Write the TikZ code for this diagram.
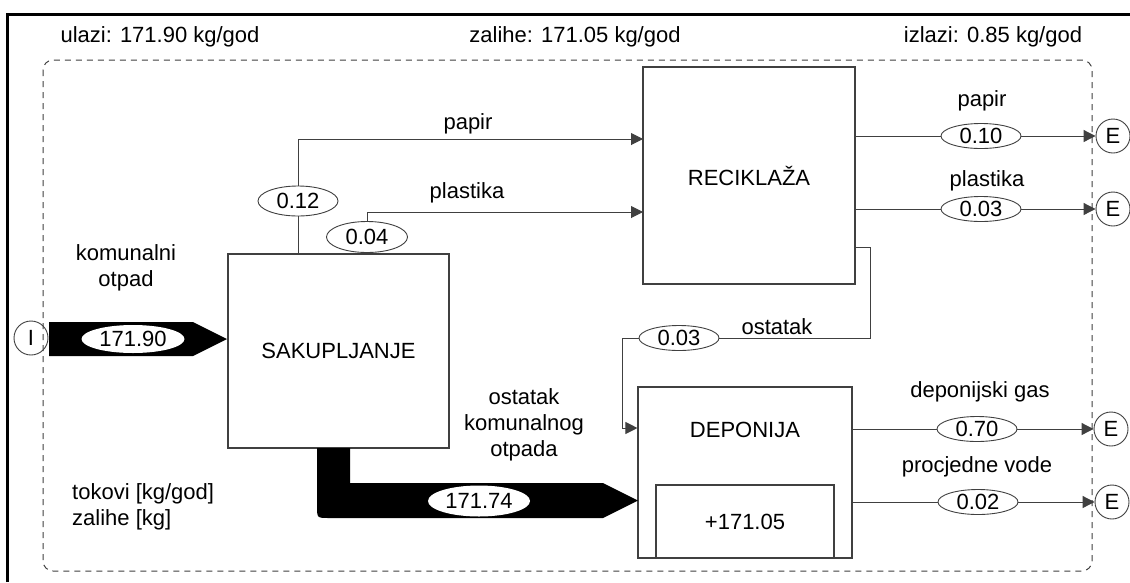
\documentclass[tikz,border=0pt]{standalone}
\usepackage{fontspec}
\setmainfont{Liberation Sans}
\usetikzlibrary{arrows.meta,shapes.geometric}
\definecolor{linec}{gray}{0.25}
\begin{document}
\begin{tikzpicture}[x=1pt,y=-1pt,
  every node/.style={font=\fontsize{22}{26}\selectfont, inner sep=0pt},
  box/.style={draw=linec, line width=1.1pt, rectangle},
  val/.style={draw=linec, line width=0.9pt, ellipse, fill=white, minimum width=80pt, minimum height=25pt},
  big/.style={ellipse, fill=white},
  term/.style={draw=linec, line width=0.9pt, circle, minimum size=34pt},
  conn/.style={draw=linec, line width=1pt},
  arr/.style={conn, -{Triangle[length=12pt,width=12pt]}},
  thick flow/.style={fill=black}
]
\fill[white] (0,0) rectangle (1130,582);
\useasboundingbox (0,0) rectangle (1130,582);
% outer frame
\draw[line width=3pt] (7.5,582) -- (7.5,14) -- (1130,14);
% system boundary
\draw[linec, line width=1pt, dash pattern=on 6pt off 5pt, rounded corners=10pt] (43,60) rectangle (1092,571);

% titles
\node (tin) at (160,37) {ulazi: 171.90 kg/god};
\node (tst) at (575,37) {zalihe: 171.05 kg/god};
\node (tout) at (993,37) {izlazi: 0.85 kg/god};

% processes
\node[box, minimum width=221pt, minimum height=194pt] (sak) at (338.5,351) {SAKUPLJANJE};
\node[box, minimum width=212pt, minimum height=217pt] (rec) at (749,175.5) {RECIKLAŽA};
\node[box, minimum width=214pt, minimum height=171pt] (dep) at (745,472.5) {};
\node (deptxt) at (745,430) {DEPONIJA};
\node[box, minimum width=178pt, minimum height=73pt] (stock) at (745,521.5) {+171.05};

% terminals
\node[term] (I) at (31,338) {I};
\node[term] (E1) at (1113,136) {E};
\node[term] (E2) at (1113,209) {E};
\node[term] (E3) at (1111,429) {E};
\node[term] (E4) at (1112,502) {E};

% thick flows
\fill[thick flow] (49,322) -- (193,322) -- (227,339) -- (193,356) -- (49,356) -- cycle;
\fill[thick flow] (350,448) -- (350,483) -- (603,483) -- (638,500.5) -- (603,518) -- (329,518)
   .. controls (317,518) .. (317,506) -- (317,448) -- cycle;
\node[big, minimum width=103pt, minimum height=28pt] (v17190) at (133,339) {171.90};
\node[big, minimum width=102pt, minimum height=31pt] (v17174) at (479,501) {171.74};

% value ellipses
\node[val, minimum width=80pt, minimum height=30pt] (e012) at (298,201) {0.12};
\node[val, minimum width=81pt, minimum height=31pt] (e004) at (367,237) {0.04};
\node[val] (e010) at (981,136) {0.10};
\node[val] (e003a) at (981,209) {0.03};
\node[val] (e003b) at (679,338) {0.03};
\node[val] (e070) at (977,429) {0.70};
\node[val] (e002) at (978,502) {0.02};

% connectors
\coordinate (papirIn) at (643,139);
\coordinate (plastIn) at (643,212);
\draw[conn] (e012.south) -- (e012 |- sak.north);
\draw[arr] (e012.north) |- (papirIn);
\draw[arr] (e004.north) |- (plastIn);

\draw[conn] (rec.east |- e010) -- (e010.west);
\draw[arr] (e010.east) -- (E1.west);
\draw[conn] (rec.east |- e003a) -- (e003a.west);
\draw[arr] (e003a.east) -- (E2.west);
\draw[conn] (dep.east |- e070) -- (e070.west);
\draw[arr] (e070.east) -- (E3.west);
\draw[conn] (dep.east |- e002) -- (e002.west);
\draw[arr] (e002.east) -- (E4.west);

\coordinate (ostY) at (870,247);
\coordinate (ostIn) at (622,428);
\draw[conn] (rec.east |- ostY) -- (ostY) |- (e003b.east);
\draw[arr] (e003b.west) -| (ostIn) -- (dep.west |- ostIn);

% labels
\node (l1) at (468,124) {papir};
\node (l2) at (467,193) {plastika};
\node (l3) at (982,101) {papir};
\node (l4) at (987,181) {plastika};
\node (l5) at (980,392) {deponijski gas};
\node (l6) at (977,467) {procjedne vode};
\node (l7) at (777,327) {ostatak};
\node[align=center] (l8) at (126,268) {komunalni\\otpad};
\node[align=center] (l9) at (524,425) {ostatak\\komunalnog\\otpada};
\node[align=left, anchor=west] (l10) at (72,507) {tokovi [kg/god]\\zalihe [kg]};
\end{tikzpicture}
\end{document}
